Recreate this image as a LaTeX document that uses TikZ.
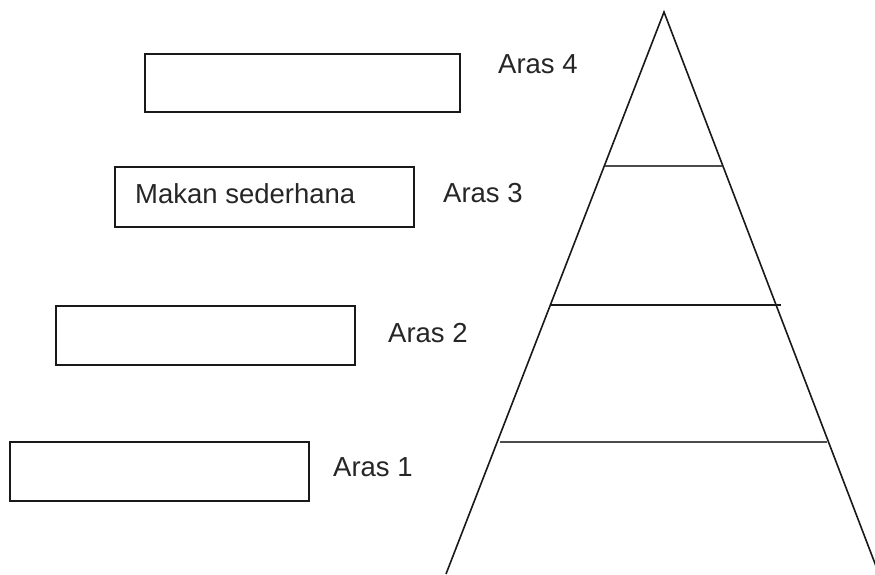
\documentclass[tikz,border=0pt]{standalone}
\usepackage{fontspec}
\setmainfont{Liberation Sans}
\begin{document}
\begin{tikzpicture}[x=1pt,y=-1pt,
  box/.style={draw=black!90, line width=1.6pt, fill=white, inner sep=0pt, minimum width=299pt, minimum height=59pt},
  lbl/.style={anchor=base west, inner sep=0pt, font=\fontsize{27.5}{32}\selectfont, text=black!85},
  side/.style={line width=1.6pt, black!90},
  tier/.style={line width=1.5pt, black!70}]
\fill[white] (0,0) rectangle (875,574);
\useasboundingbox (0,0) rectangle (875,574);
% boxes
\node[box, minimum width=315pt, minimum height=58pt] (b4) at (302.5,83) {};
\node[box, minimum height=60pt] (b3) at (264.5,197) {};
\node[box] (b2) at (205.5,335.5) {};
\node[box] (b1) at (159.5,471.5) {};
\node[lbl] (mk) at (135,203) {Makan sederhana};
% labels
\node[lbl] (a4) at (498,73) {Aras 4};
\node[lbl] (a3) at (443,202) {Aras 3};
\node[lbl] (a2) at (388,342) {Aras 2};
\node[lbl] (a1) at (333,476) {Aras 1};
% pyramid
\coordinate (apex) at (664,12);
\coordinate (bl) at (446,574);
\coordinate (br) at (879,574);
\draw[side] (bl) -- (apex) -- (br);
\coordinate (l3) at (604.5,166); \coordinate (r3) at (722,166);
\coordinate (l2) at (550,305);   \coordinate (r2) at (781,305);
\coordinate (l1) at (500,442);   \coordinate (r1) at (827,442);
\draw[tier] (l3) -- (r3);
\draw[tier, black!90] (l2) -- (r2);
\draw[tier] (l1) -- (r1);
\end{tikzpicture}
\end{document}
